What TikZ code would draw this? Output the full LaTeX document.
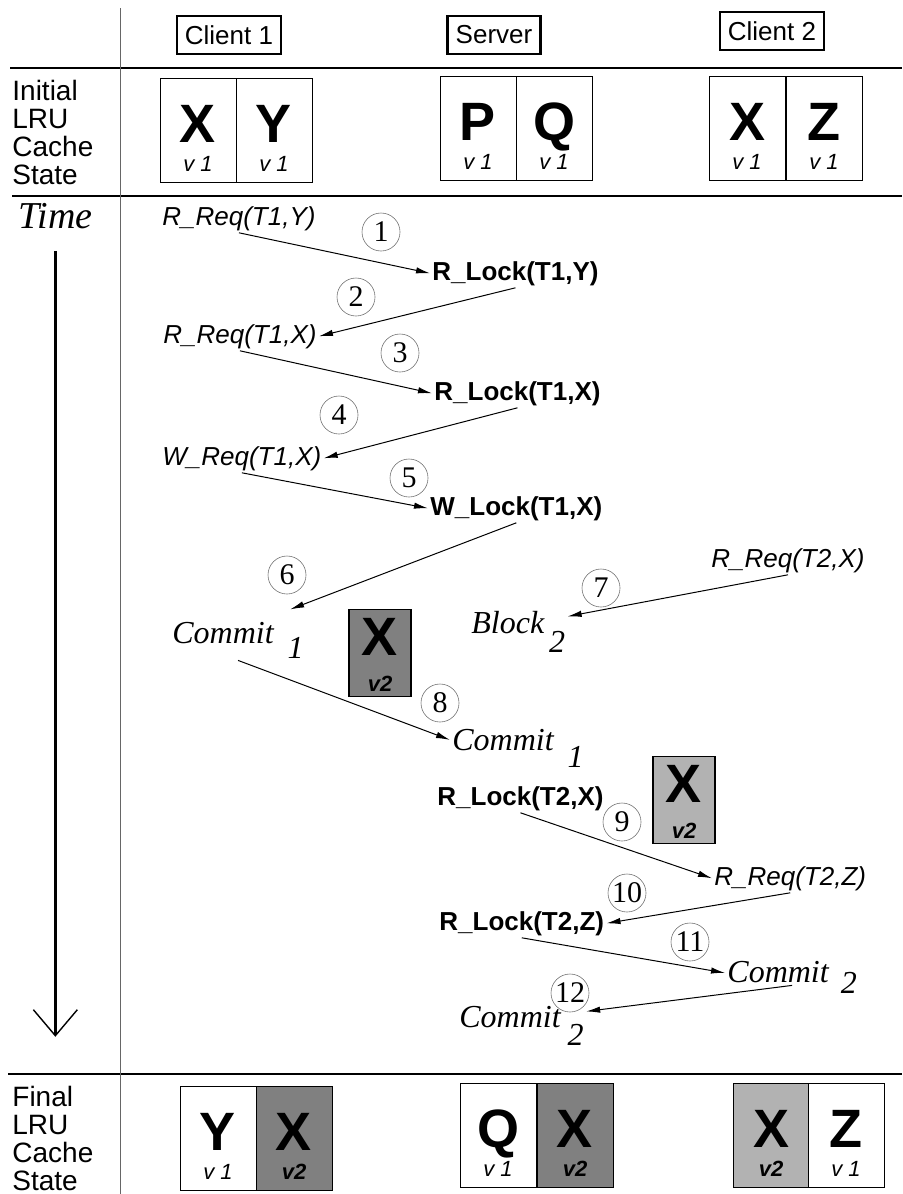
\documentclass[tikz,border=0pt]{standalone}
\usepackage{fontspec}
\setmainfont{Liberation Serif}
\setsansfont{Liberation Sans}
\usetikzlibrary{arrows.meta}

\begin{document}
\begin{tikzpicture}[x=0.5pt, y=-0.5pt,
    rule/.style={line width=0.7pt},
    host/.style={draw, line width=1.4pt, inner sep=4pt, minimum height=19pt,
      font=\sffamily\fontsize{13}{15}\selectfont},
    rowlabel/.style={anchor=north west, align=left, inner sep=0pt,
      font=\sffamily\fontsize{14}{14}\selectfont},
    cell/.style={draw, line width=0.4pt, minimum width=38pt, minimum height=52pt, inner sep=0pt},
    copybox/.style={draw, line width=0.6pt, minimum width=31pt, minimum height=43.5pt, inner sep=0pt},
    letter/.style={anchor=base, inner sep=0pt, font=\sffamily\bfseries\fontsize{27}{27}\selectfont},
    version/.style={anchor=base, inner sep=0pt, font=\sffamily\itshape\fontsize{11}{11}\selectfont},
    req/.style={anchor=base west, inner sep=1pt, font=\sffamily\itshape\fontsize{13}{15}\selectfont},
    lock/.style={anchor=base west, inner sep=1pt, font=\sffamily\bfseries\fontsize{13}{15}\selectfont},
    event/.style={anchor=base west, inner sep=1pt, font=\itshape\fontsize{16}{18}\selectfont},
    num/.style={circle, draw=black!55, line width=0.3pt, inner sep=0pt, minimum size=19pt,
      font=\fontsize{15}{15}\selectfont},
    msg/.style={-{Latex[length=7pt,width=3.2pt]}, line width=0.5pt}]
  \useasboundingbox (0,0) rectangle (902,1194);

  \draw[rule] (10,68) -- (902,68);
  \draw[rule] (12,196) -- (902,196);
  \draw[rule] (8,1074) -- (902,1074);
  \draw[line width=0.4pt, black!60] (120,8) -- (120,1194);

  \node[host] (client1) at (229,35) {Client 1};
  \node[host] (server) at (494,35) {Server};
  \node[host] (client2) at (772,31) {Client 2};

  \node[rowlabel] (initial) at (12,80) {Initial\\LRU\\Cache\\State};
  \node[rowlabel] (final) at (12,1086) {Final\\LRU\\Cache\\State};

  % cache contents before and after
  \foreach \nm/\x/\y/\shade/\ltr/\ver in {
      ix1/198/130/white/X/v 1, iy1/274/130/white/Y/v 1,
      ip/478/128/white/P/v 1, iq/554/128/white/Q/v 1,
      ix2/747/128/white/X/v 1, iz2/824/128/white/Z/v 1,
      fy1/218/1138/white/Y/v 1, fx1/294/1138/black!50/X/{\bfseries v2},
      fq/498/1135/white/Q/v 1, fxs/575/1135/black!50/X/{\bfseries v2},
      fx2/771/1135/black!30/X/{\bfseries v2}, fz2/846/1135/white/Z/v 1}{
    \node[cell, fill=\shade] (\nm) at (\x,\y) {};
    \node[letter] at ([yshift=20pt]\nm.south) {\ltr};
    \node[version] at ([yshift=5.5pt]\nm.south) {\ver};
  }

  \node[copybox, fill=black!50] (newx1) at (380,653) {};
  \node[letter] at ([yshift=21pt]newx1.south) {X};
  \node[version] at ([yshift=3pt]newx1.south) {\bfseries v2};
  \node[copybox, fill=black!30] (newx2) at (684,800) {};
  \node[letter] at ([yshift=21pt]newx2.south) {X};
  \node[version] at ([yshift=3pt]newx2.south) {\bfseries v2};

  % time axis
  \node[anchor=base west, inner sep=0pt, font=\itshape\fontsize{19}{19}\selectfont] (time) at (18,228) {Time};
  \coordinate (timeend) at ([yshift=-404pt]time.south);
  \draw[line width=1.3pt, shorten <=11pt,
    -{Straight Barb[length=13pt,width=22pt,line width=0.7pt]}] (time.south) -- (timeend);

  % messages
  \node[req] (rq1) at (160,225) {R\_Req(T1,Y)};
  \node[lock] (rl1) at (430,280) {R\_Lock(T1,Y)};
  \node[req] (rq2) at (161,343) {R\_Req(T1,X)};
  \node[lock] (rl2) at (432,400) {R\_Lock(T1,X)};
  \node[req] (wq1) at (160,465) {W\_Req(T1,X)};
  \node[lock] (wl1) at (428,515) {W\_Lock(T1,X)};
  \node[req] (rq3) at (709,567) {R\_Req(T2,X)};
  \node[event] (commit1) at (170,643) {Commit\hspace{7pt}\raisebox{-7.5pt}{1}};
  \node[event] (block2) at (469,633) {Block\hspace{2.5pt}\raisebox{-9.5pt}{2}};
  \node[event] (commit1s) at (450,750) {Commit\hspace{7pt}\raisebox{-8.5pt}{1}};
  \node[lock] (rl3) at (435,805) {R\_Lock(T2,X)};
  \node[req] (rq4) at (712,885) {R\_Req(T2,Z)};
  \node[lock] (rl4) at (437,930) {R\_Lock(T2,Z)};
  \node[event] (commit2) at (725,982) {Commit\hspace{6pt}\raisebox{-5.5pt}{2}};
  \node[event] (commit2s) at (457,1027) {Commit\hspace{3.5pt}\raisebox{-9pt}{2}};

  \foreach \n/\x/\y in {1/381/232, 2/356/297, 3/400/353, 4/339/415, 5/409/478, 6/287/575,
      7/601/588, 8/440/703, 9/622/822, 10/627/893, 11/690/942, 12/570/993}
    \node[num] (n\n) at (\x,\y) {\n};

  \draw[msg] (rq1.south) -- (rl1.west);
  \draw[msg] (rl1.south) -- (rq2.east);
  \draw[msg] (rq2.south) -- (rl2.west);
  \draw[msg] (rl2.south) -- (wq1.east);
  \draw[msg] (wq1.south) -- (wl1.west);
  \draw[msg] (wl1.south) -- ([xshift=-8pt,yshift=5pt]commit1.north east);
  \draw[msg] (rq3.south) -- ([yshift=-4pt]block2.north east);
  \draw[msg] (commit1.south) -- ([yshift=4pt]commit1s.west);
  \draw[msg] (rl3.south) -- (rq4.west);
  \draw[msg] (rq4.south) -- (rl4.east);
  \draw[msg] (rl4.south) -- ([yshift=2pt]commit2.west);
  \draw[msg] ([yshift=5pt]commit2.south) -- ([yshift=-4pt]commit2s.north east);
\end{tikzpicture}
\end{document}
